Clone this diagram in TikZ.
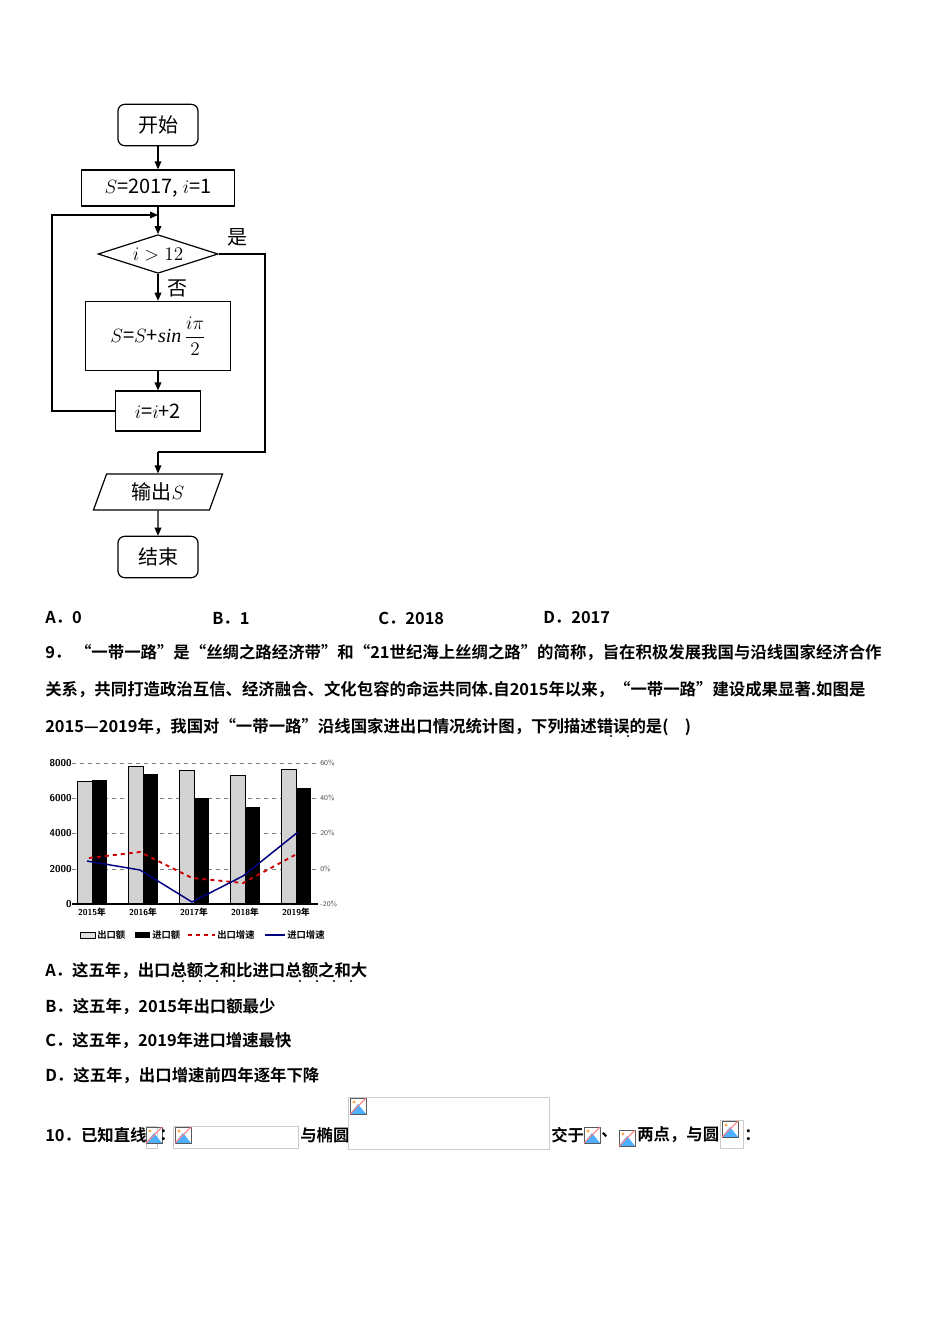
\documentclass[tikz,border=0pt]{standalone}
\usepackage{fontspec}
\setmainfont{Liberation Serif}
\newfontfamily\cjk{Noto Sans CJK SC}
\newfontfamily\cjkb{Noto Sans CJK SC Bold}
\usetikzlibrary{shapes.geometric,arrows.meta}
\begin{document}
\begin{tikzpicture}[x=0.75pt,y=-0.75pt,
  fbox/.style={draw,line width=0.9pt,inner sep=0pt,font=\cjk\fontsize{15}{16}\selectfont},
  flow/.style={-{Triangle[length=6pt,width=5pt]},line width=0.9pt},
  qtext/.style={anchor=west,inner sep=0pt,font=\cjkb\fontsize{12.3}{14}\selectfont},
  ctext/.style={inner sep=0pt,font=\cjkb\fontsize{7}{8}\selectfont},
  grid/.style={gray,dashed,line width=0.5pt}]
\useasboundingbox (0,0) rectangle (950,1344);
\fill[white] (0,0) rectangle (950,1344);
% ---------- flowchart
\node[fbox,rounded corners=5pt,minimum width=60pt,minimum height=31pt] (start) at (158,125) {开始};
\node[fbox,minimum width=115pt,minimum height=27pt] (init) at (158,188) {$S$=2017, $i$=1};
\node[fbox,diamond,aspect=3.2,minimum width=90pt,minimum height=29pt] (cond) at (158,254) {$i>12$};
\node[fbox,minimum width=109pt,minimum height=52pt] (upd) at (158,336) {$S$=$S$+$\mathit{sin}\,\displaystyle\frac{i\pi}{2}$};
\node[fbox,minimum width=64pt,minimum height=30pt] (inc) at (158,411) {$i$=$i$+2};
\node[fbox,trapezium,trapezium left angle=70,trapezium right angle=110,minimum width=62pt,minimum height=27pt] (out) at (158,492) {输出$S$};
\node[fbox,rounded corners=5pt,minimum width=60pt,minimum height=31pt] (stop) at (158,557) {结束};
\coordinate (j1) at (158,215);
\coordinate (j2) at (158,452);
\draw[flow] (start) -- (init);
\draw[line width=0.9pt] (init) -- (j1);
\draw[flow] (j1) -- (cond);
\draw[flow] (cond) -- (upd);
\draw[flow] (upd) -- (inc);
\draw[flow] (inc.west) -- (52,411) -- (52,215) -- (j1);
\draw[line width=0.9pt] (cond.east) -- (265,254) -- (265,452) -- (j2);
\draw[flow] (j2) -- (out);
\draw[flow] (out) -- (stop);
\node[font=\cjk\fontsize{15}{16}\selectfont] (yes) at (237,237) {是};
\node[font=\cjk\fontsize{15}{16}\selectfont] (no) at (177,288) {否};
% ---------- answers
\node[qtext] (a8) at (45,618) {A．0};
\node[qtext] (b8) at (212,618) {B．1};
\node[qtext] (c8) at (378,618) {C．2018};
\node[qtext] (d8) at (543,618) {D．2017};
% ---------- Q9
\node[qtext] (q1) at (45,653) {9．\ “一带一路”是“丝绸之路经济带”和“21世纪海上丝绸之路”的简称，旨在积极发展我国与沿线国家经济合作};
\node[qtext] (q2) at (45,690) {关系，共同打造政治互信、经济融合、文化包容的命运共同体.自2015年以来，“一带一路”建设成果显著.如图是};
\node[qtext] (q3) at (45,727) {2015—2019年，我国对“一带一路”沿线国家进出口情况统计图，下列描述错误的是(\quad)};
\fill (611,736) circle (1.2) (628,736) circle (1.2);
% ---------- chart
\foreach \v/\y in {8000/763,6000/798,4000/833,2000/869,0/904}{
  \node[ctext,anchor=east,font=\sffamily\bfseries\fontsize{7.5}{8}\selectfont] at (72,\y) {\v};}
\foreach \y in {763,798,833,869}{\draw[grid] (72,\y) -- (318,\y);}
\foreach \p/\y in {60/763,40/798,20/833,0/869,-20/904}{
  \node[anchor=west,inner sep=0pt,gray!60!black,font=\sffamily\fontsize{5.5}{6}\selectfont] at (320,\y) {\p\%};}
\foreach \i/\e/\m in {0/6950/7050,1/7800/7350,2/7600/6000,3/7300/5500,4/7650/6600}{
  \pgfmathsetmacro\xa{77+51*\i}
  \pgfmathsetmacro\xb{\xa+15}
  \pgfmathsetmacro\xc{\xa+30}
  \pgfmathsetmacro\ye{904-\e*0.017625}
  \pgfmathsetmacro\ym{904-\m*0.017625}
  \draw[fill=gray!35,line width=0.7pt] (\xa,904) rectangle (\xb,\ye);
  \fill[black] (\xb,904) rectangle (\xc,\ym);
  \pgfmathtruncatemacro\yr{2015+\i}
  \node[ctext,font=\sffamily\bfseries\fontsize{6.5}{7}\selectfont] at (\xb,912) {\yr\cjkb 年};}
\draw[line width=1pt] (72,904) -- (318,904);
\draw[red!80!black,dashed,line width=1.4pt] (89,858) -- (140,852) -- (192,878) -- (243,883) -- (295,855);
\draw[blue!50!black,line width=1.1pt] (87,861) -- (140,870) -- (192,902) -- (243,876) -- (298,832);
% legend
\draw[fill=gray!25] (80,932) rectangle (95,938);
\node[ctext,anchor=west] at (97,935) {出口额};
\fill (135,932) rectangle (150,938);
\node[ctext,anchor=west] at (152,935) {进口额};
\draw[red!80!black,dashed,line width=1.2pt] (188,935) -- (215,935);
\node[ctext,anchor=west] at (217,935) {出口增速};
\draw[blue!50!black,line width=1pt] (265,935) -- (285,935);
\node[ctext,anchor=west] at (287,935) {进口增速};
% ---------- options
\node[qtext] (oa) at (45,971) {A．这五年，出口总额之和比进口总额之和大};
\foreach \x in {183,200,217,234,300,317,334,351}{\fill (\x,981) circle (1.2);}
\node[qtext] (ob) at (45,1007) {B．这五年，2015年出口额最少};
\node[qtext] (oc) at (45,1041) {C．这五年，2019年进口增速最快};
\node[qtext] (od) at (45,1076) {D．这五年，出口增速前四年逐年下降};
% ---------- Q10
\newcommand\imgicon[2]{%
  \begin{scope}[shift={(#1,#2)}]
  \fill[blue!45!cyan!70] (0,16) -- (8,6) -- (16,16) -- cycle;
  \draw[gray!70!black,line width=0.5pt] (0,0) rectangle (16,16);
  \fill[orange!70] (4,4) circle (1.6);
  \draw[red!50,line width=0.8pt] (0,16) -- (16,0);
  \end{scope}}
\node[qtext] (q10a) at (45,1135) {10．已知直线};
\draw[gray!40] (146,1126) rectangle (157,1148);
\imgicon{146}{1127}
\node[qtext] at (159,1135) {：};
\draw[gray!40] (173,1126) rectangle (298,1148);
\imgicon{175}{1127}
\node[qtext] (q10b) at (300,1135) {与椭圆};
\draw[gray!40] (348,1097) rectangle (549,1149);
\imgicon{350}{1098}
\node[qtext] (q10c) at (551,1135) {交于};
\imgicon{584}{1127}
\node[qtext] at (601,1135) {、};
\imgicon{619}{1130}
\node[qtext] (q10d) at (637,1135) {两点，与圆};
\draw[gray!40] (720,1120) rectangle (743,1148);
\imgicon{722}{1121}
\node[qtext] at (744,1135) {：};
\end{tikzpicture}
\end{document}
